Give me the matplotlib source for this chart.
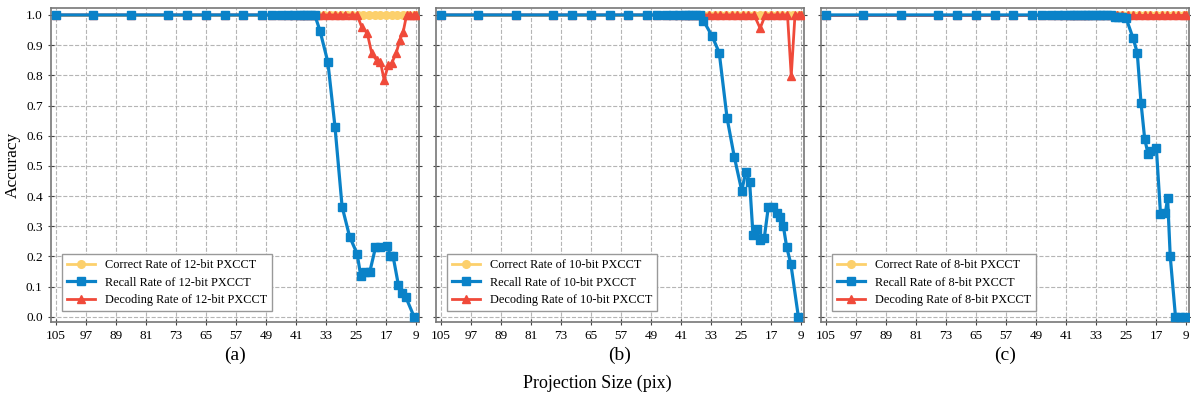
import matplotlib
matplotlib.use("Agg")
import matplotlib.pyplot as plt

plt.rcParams['font.family'] = ['Liberation Serif', 'DejaVu Serif']

# shared plateau of sampled projection sizes (all rates 1.0 here)
plateau_x = [105, 95, 85, 75, 70, 65, 60, 55, 50, 47.5, 45, 43, 41.5, 40, 39, 38, 37, 36]
dense_x = [35, 33.5, 32, 30.5, 29, 27.5, 26, 24.5, 23, 21.5, 20, 18.5, 17, 15.5, 14, 12.5, 11, 9.5, 9]

# correct rate (always 1.0)
correct_x = plateau_x + dense_x
correct_y = [1.0] * len(correct_x)

# (a) 12-bit
recall_a_x = plateau_x + [34.6, 32.5, 30.6, 28.7, 26.7, 24.7, 23.7, 22.6, 21.3, 19.8, 18.5,
                          16.6, 15.8, 15.1, 13.7, 12.6, 11.7, 9.5]
recall_a_y = [1.0] * len(plateau_x) + [0.948, 0.844, 0.63, 0.365, 0.266, 0.209, 0.134, 0.15, 0.15,
                                       0.23, 0.23, 0.234, 0.2, 0.2, 0.106, 0.08, 0.065, 0.0]
decode_a_x = plateau_x + [35.2, 33.7, 32.1, 30.6, 29.3, 27.8, 26.1, 24.7, 23.5, 22.0, 20.8, 19.5,
                          18.5, 17.5, 16.4, 15.5, 14.3, 13.3, 12.4, 11.5, 10.5, 9.5, 9]
decode_a_y = [1.0] * len(plateau_x) + [1, 1, 1, 1, 1, 1, 1, 1, 0.961, 0.94, 0.873, 0.85,
                                       0.845, 0.785, 0.834, 0.84, 0.873, 0.917, 0.945, 1, 1, 1, 1]

# (b) 10-bit
recall_b_x = plateau_x + [35.0, 32.7, 30.8, 28.7, 26.8, 24.8, 23.7, 22.7, 21.8, 20.8, 19.9, 18.8,
                          17.7, 16.5, 15.4, 14.6, 13.7, 12.8, 11.7, 9.7]
recall_b_y = [1.0] * len(plateau_x) + [0.981, 0.93, 0.875, 0.658, 0.531, 0.418, 0.481, 0.448, 0.272,
                                       0.29, 0.253, 0.26, 0.365, 0.363, 0.343, 0.332, 0.30, 0.23,
                                       0.175, 0.0]
decode_b_x = plateau_x + [35, 33.5, 32, 30.5, 29, 27.5, 26, 24.5, 23, 21.5, 19.9, 18.5, 17, 15.5,
                          14, 12.6, 11.6, 10.6, 9.5, 9]
decode_b_y = [1.0] * len(plateau_x) + [1, 1, 1, 1, 1, 1, 1, 1, 1, 1, 0.956, 1, 1, 1,
                                       1, 1, 0.798, 1, 1, 1]

# (c) 8-bit
recall_c_x = plateau_x + [35, 34, 33, 32, 31, 30, 29, 28, 27, 26, 25, 23.1, 22.0, 21.0, 20.0, 19.1,
                          18.5, 16.9, 15.8, 14.5, 13.9, 13.2, 11.8, 10.5, 9.2]
recall_c_y = [1.0] * len(plateau_x) + [1, 1, 1, 1, 1, 1, 1, 0.993, 0.993, 0.993, 0.99, 0.923, 0.875,
                                       0.71, 0.588, 0.54, 0.55, 0.559, 0.341, 0.344, 0.393, 0.2,
                                       0.0, 0.0, 0.0]
decode_c_x = plateau_x + dense_x
decode_c_y = [1.0] * len(decode_c_x)

bits = ['12', '10', '8']
panel_tags = ['(a)', '(b)', '(c)']
x_ticks = list(range(105, 8, -8))

c_yellow = '#FCD06C'
c_blue = '#0A82C8'
c_red = '#F04A3A'

fig = plt.figure(figsize=(11.91, 3.98), dpi=100)
lefts = [51, 436, 821]
W, H = 1191, 398

panels = [
    (recall_a_x, recall_a_y, decode_a_x, decode_a_y),
    (recall_b_x, recall_b_y, decode_b_x, decode_b_y),
    (recall_c_x, recall_c_y, decode_c_x, decode_c_y),
]

for i, (rx, ry, dx, dy) in enumerate(panels):
    ax = fig.add_axes([lefts[i] / W, (H - 322) / H, 368 / W, 314 / H])
    ax.plot(correct_x, correct_y, '-o', color=c_yellow, lw=2, ms=5.5, zorder=2,
            label=f'Correct Rate of {bits[i]}-bit PXCCT')
    ax.plot(rx, ry, '-s', color=c_blue, lw=2.3, ms=6, zorder=4,
            label=f'Recall Rate of {bits[i]}-bit PXCCT')
    ax.plot(dx, dy, '-^', color=c_red, lw=2, ms=6, zorder=3,
            label=f'Decoding Rate of {bits[i]}-bit PXCCT')

    ax.set_xlim(106.3, 8.2)
    ax.set_ylim(-0.017, 1.023)
    ax.set_xticks(x_ticks)
    ax.set_yticks([k / 10 for k in range(11)])
    ax.grid(True, ls='--', color='#b5b5b5', lw=0.8)
    ax.tick_params(direction='inout', right=True, labelsize=9.5, length=5, color='#444444')
    for s in ax.spines.values():
        s.set_color('#777777')
        s.set_linewidth(1.2)
    if i == 0:
        ax.set_ylabel('Accuracy', fontsize=12.5)
    else:
        ax.set_yticklabels([])
    ax.set_xlabel(panel_tags[i], fontsize=14, labelpad=3)

    # legend order: correct, recall, decoding
    leg = ax.legend(loc='lower left', fontsize=8.8, fancybox=False, framealpha=1,
                    edgecolor='#999999', borderaxespad=0.9, handlelength=2.3,
                    labelspacing=0.45)
    leg.get_frame().set_linewidth(1.0)

fig.text(597 / W, 1 - 383 / H, 'Projection Size (pix)', ha='center', va='center', fontsize=13)

fig.savefig('out.png', dpi=100)
